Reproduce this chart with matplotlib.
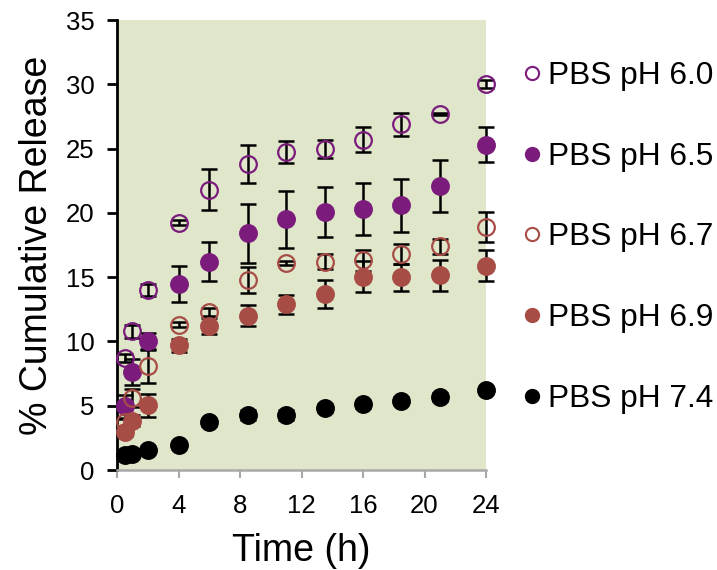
import matplotlib
matplotlib.use("Agg")
import matplotlib.pyplot as plt
from matplotlib.lines import Line2D

plt.rcParams['font.family'] = ['Liberation Sans', 'DejaVu Sans']

time_h = [0.5, 1, 2, 4, 6, 8.5, 11, 13.5, 16, 18.5, 21, 24]

ph60 = [8.7, 10.8, 14.0, 19.25, 21.8, 23.8, 24.75, 25.0, 25.7, 26.9, 27.7, 30.0]
ph60_err = [0.3, 0.5, 0.5, 0.2, 1.6, 1.45, 0.85, 0.7, 1.0, 0.9, 0.1, 0.3]

ph65 = [4.95, 7.6, 10.0, 14.5, 16.2, 18.4, 19.5, 20.1, 20.3, 20.6, 22.1, 25.3]
ph65_err = [0.9, 1.0, 0.65, 1.4, 1.5, 2.3, 2.2, 1.95, 2.0, 2.05, 2.05, 1.35]

ph67 = [3.7, 5.6, 8.1, 11.3, 12.3, 14.8, 16.1, 16.2, 16.3, 16.8, 17.4, 18.9]
ph67_err = [0.3, 0.7, 1.35, 0.2, 0.3, 1.0, 0.15, 0.6, 0.85, 0.8, 0.6, 1.2]

ph69 = [2.95, 3.85, 5.05, 9.7, 11.2, 12.0, 12.9, 13.7, 15.05, 15.0, 15.15, 15.9]
ph69_err = [0.3, 0.4, 0.9, 0.5, 0.6, 0.83, 0.74, 1.1, 1.2, 1.05, 1.2, 1.2]

ph74 = [1.15, 1.25, 1.55, 1.98, 3.7, 4.3, 4.3, 4.85, 5.1, 5.4, 5.7, 6.25]
ph74_err = [0.15, 0.15, 0.15, 0.2, 0.3, 0.4, 0.4, 0.3, 0.3, 0.3, 0.3, 0.1]

labels = ['PBS pH 6.0', 'PBS pH 6.5', 'PBS pH 6.7', 'PBS pH 6.9', 'PBS pH 7.4']
x_ticks = [0, 4, 8, 12, 16, 20, 24]
y_ticks = [0, 5, 10, 15, 20, 25, 30, 35]

purple = '#7B1C7D'
red = '#A84C46'
black = '#000000'

series = [
    (ph60, ph60_err, purple, False),
    (ph65, ph65_err, purple, True),
    (ph67, ph67_err, red, False),
    (ph69, ph69_err, red, True),
    (ph74, ph74_err, black, True),
]

fig = plt.figure(figsize=(7.17, 5.70), dpi=100)
ax = fig.add_axes([117/717, 1 - 470/570, (486 - 117)/717, (470 - 20)/570])
ax.set_facecolor('#DFE6CA')

handles = []
for (vals, errs, col, filled), lab in zip(series, labels):
    ax.errorbar(time_h, vals, yerr=errs, fmt='none', ecolor='black',
                elinewidth=1.8, capsize=5.5, capthick=1.8, zorder=2, clip_on=False)
    fc = col if filled else 'none'
    ax.plot(time_h, vals, linestyle='none', marker='o', markersize=12,
            markerfacecolor=fc, markeredgecolor=col, markeredgewidth=1.6,
            zorder=3, clip_on=False)
    handles.append(Line2D([], [], linestyle='none', marker='o', markersize=9.5,
                          markerfacecolor=fc, markeredgecolor=col,
                          markeredgewidth=1.5, label=lab))

ax.set_xlim(0, 24)
ax.set_ylim(0, 35)
ax.set_xticks(x_ticks)
ax.set_yticks(y_ticks)

for s in ['top', 'right']:
    ax.spines[s].set_visible(False)
ax.spines['left'].set_color('black')
ax.spines['left'].set_linewidth(2)
ax.spines['bottom'].set_color('#A8A8A8')
ax.spines['bottom'].set_linewidth(1.8)

ax.tick_params(axis='y', direction='out', length=7, width=2, color='black',
               labelsize=18.5, pad=9)
ax.tick_params(axis='x', direction='out', length=6, width=1.5, color='#A8A8A8',
               labelsize=18.5, pad=11, labelcolor='black')

ax.set_xlabel('Time (h)', fontsize=27, labelpad=11)
ax.set_ylabel('% Cumulative Release', fontsize=27, labelpad=8)

fig.legend(handles=handles, loc='upper left', bbox_to_anchor=(518/717, 1 - 61/570),
           frameon=False, fontsize=22.8, handletextpad=0.05, handlelength=0.9,
           labelspacing=1.6, borderaxespad=0, borderpad=0)

fig.savefig('out.png', dpi=100)
